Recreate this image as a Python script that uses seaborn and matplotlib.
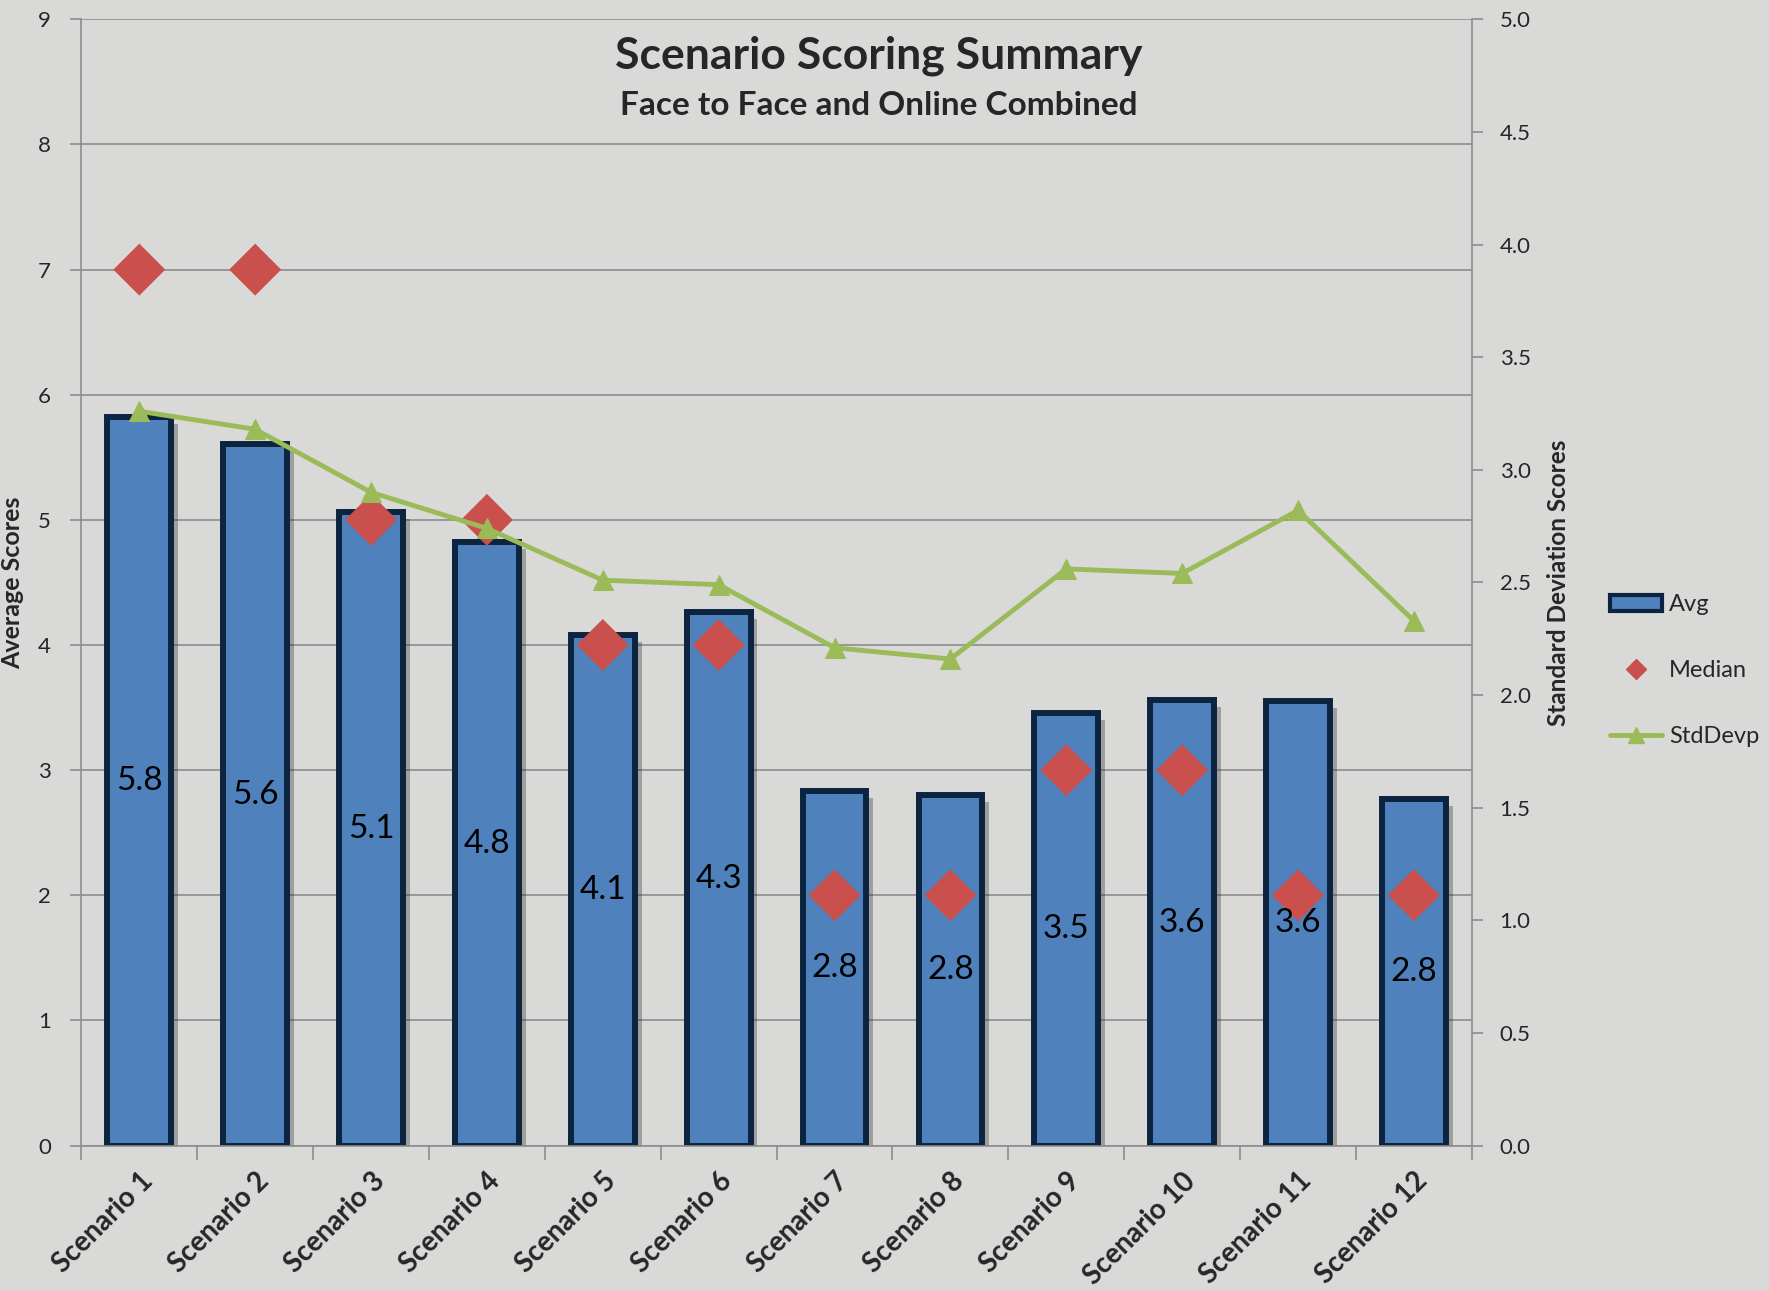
import matplotlib
matplotlib.use("Agg")
import matplotlib.pyplot as plt
import matplotlib.patheffects as pe
from matplotlib.patches import Patch
from matplotlib.lines import Line2D
from matplotlib.ticker import FixedLocator, FormatStrFormatter
import numpy as np
import pandas as pd
import seaborn as sns

categories = ["Scenario 1", "Scenario 2", "Scenario 3", "Scenario 4", "Scenario 5", "Scenario 6",
              "Scenario 7", "Scenario 8", "Scenario 9", "Scenario 10", "Scenario 11", "Scenario 12"]
avg = [5.82, 5.61, 5.06, 4.82, 4.08, 4.26, 2.83, 2.80, 3.46, 3.56, 3.55, 2.77]
avg_labels = ["5.8", "5.6", "5.1", "4.8", "4.1", "4.3", "2.8", "2.8", "3.5", "3.6", "3.6", "2.8"]
median = [7, 7, 5, 5, 4, 4, 2, 2, 3, 3, 2, 2]
stddevp = [3.26, 3.18, 2.90, 2.74, 2.51, 2.49, 2.21, 2.16, 2.56, 2.54, 2.82, 2.33]
left_ticks = [0, 1, 2, 3, 4, 5, 6, 7, 8, 9]
right_ticks = [0.0, 0.5, 1.0, 1.5, 2.0, 2.5, 3.0, 3.5, 4.0, 4.5, 5.0]

BG = "#d9dad8"
BAR = "#4f81bd"
EDGE = "#0d2440"
RED = "#c9504c"
GREEN = "#9bbb59"
GRID = "#8c8c8c"

sns.set_theme(style="white")
plt.rcParams["font.family"] = ["Lato", "DejaVu Sans"]

df = pd.DataFrame({"Scenario": categories, "Avg": avg, "Median": median, "StdDevp": stddevp})
xpos = np.arange(len(categories))

fig = plt.figure(figsize=(17.69, 12.90), dpi=100, facecolor=BG)
ax = fig.add_axes([0.046, 0.112, 0.786, 0.873])
ax.set_facecolor(BG)

sns.barplot(data=df, x="Scenario", y="Avg", color=BAR, width=0.55, saturation=1,
            edgecolor=EDGE, linewidth=4.3, ax=ax, zorder=2)
for p in ax.patches:
    p.set_path_effects([pe.SimplePatchShadow(offset=(5, -5), shadow_rgbFace="k", alpha=0.3), pe.Normal()])

sns.scatterplot(x=xpos, y=df["Median"], marker="D", s=700, color=RED, edgecolor="none",
                ax=ax, zorder=4, legend=False)

for i, (v, lab) in enumerate(zip(avg, avg_labels)):
    ax.text(i, v / 2, lab, ha="center", va="center", fontsize=24, color="black", zorder=5)

ax.set_xlim(-0.5, len(categories) - 0.5)
ax.set_ylim(0, 9)
ax.set_yticks(left_ticks)
ax.yaxis.grid(True, color=GRID, linewidth=1.2, zorder=0)
ax.set_axisbelow(True)
for s in ["top", "right"]:
    ax.spines[s].set_visible(False)
for s in ["left", "bottom"]:
    ax.spines[s].set_color(GRID)
    ax.spines[s].set_linewidth(1.2)
ax.tick_params(axis="y", which="major", length=8, color=GRID, width=1.2, labelsize=16, left=True, pad=14)
ax.set_xticks(xpos)
ax.set_xticklabels(categories, rotation=45, ha="right", rotation_mode="anchor",
                   fontsize=20, fontweight="bold")
ax.tick_params(axis="x", which="major", length=0, pad=16)
ax.xaxis.set_minor_locator(FixedLocator(np.arange(-0.5, len(categories), 1.0)))
ax.tick_params(axis="x", which="minor", length=10, color=GRID, width=1.2, bottom=True)
ax.set_xlabel("")
ax.set_ylabel("Average Scores", fontsize=18, fontweight="bold", labelpad=10)

ax2 = ax.twinx()
sns.lineplot(x=xpos, y=df["StdDevp"], color=GREEN, linewidth=3.5, marker="^", markersize=15,
             markeredgecolor=GREEN, ax=ax2, zorder=6)
ax2.set_ylim(0, 5)
ax2.set_yticks(right_ticks)
ax2.yaxis.set_major_formatter(FormatStrFormatter("%.1f"))
for s in ["top", "left", "bottom"]:
    ax2.spines[s].set_visible(False)
ax2.spines["right"].set_color(GRID)
ax2.spines["right"].set_linewidth(1.2)
ax2.tick_params(axis="y", length=8, color=GRID, width=1.2, labelsize=16, right=True, pad=12)
ax2.set_ylabel("Standard Deviation Scores", fontsize=17.5, fontweight="bold", labelpad=12)
ax2.set_xlim(-0.5, len(categories) - 0.5)

fig.text(0.497, 0.957, "Scenario Scoring Summary", ha="center", va="center",
         fontsize=32, fontweight="bold")
fig.text(0.497, 0.918, "Face to Face and Online Combined", ha="center",
         va="center", fontsize=24, fontweight="bold")

handles = [
    Patch(facecolor=BAR, edgecolor=EDGE, linewidth=3),
    Line2D([], [], marker="D", linestyle="none", color=RED, markersize=10),
    Line2D([], [], marker="^", color=GREEN, linewidth=3.5, markersize=12),
]
fig.legend(handles, ["Avg", "Median", "StdDevp"], loc="center left", bbox_to_anchor=(0.898, 0.48),
           frameon=False, fontsize=17, labelspacing=1.9, handlelength=2.2, handletextpad=0.3)

fig.savefig("out.png", dpi=100, facecolor=BG)
